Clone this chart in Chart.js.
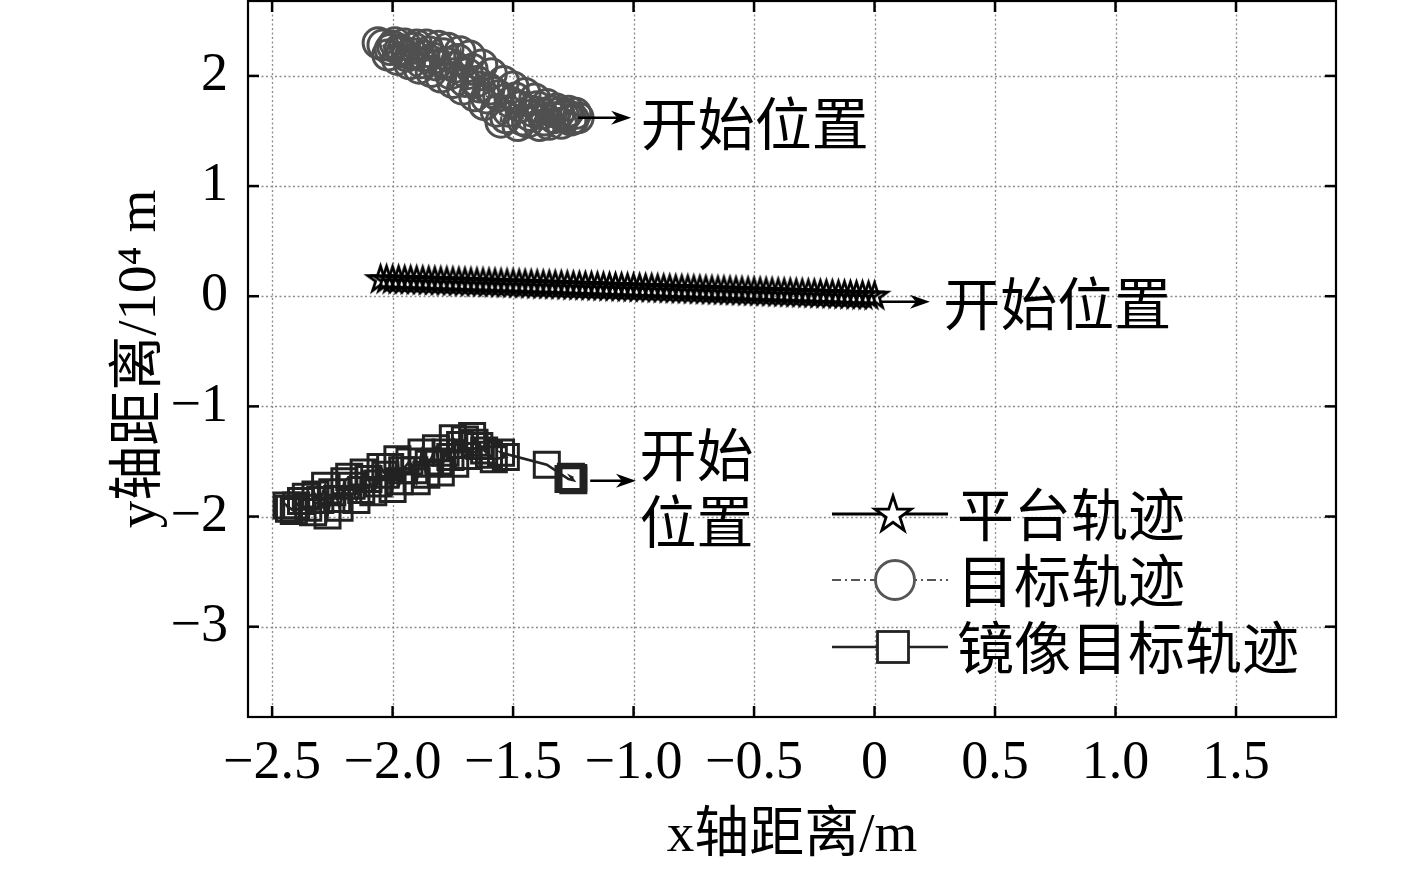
<!DOCTYPE html>
<html><head><meta charset="utf-8">
<script src="https://cdn.jsdelivr.net/npm/chart.js@4.4.1/dist/chart.umd.min.js"></script>
<style>html,body{margin:0;padding:0;background:#fff;}#wrap{width:1417px;height:878px;}</style>
</head><body><div id="wrap"><canvas id="c" width="1417" height="878"></canvas></div>
<script>
// ---------- data ----------
const xTicks = [-2.5, -2, -1.5, -1, -0.5, 0, 0.5, 1, 1.5];
const xTickLabels = ['−2.5', '−2.0', '−1.5', '−1.0', '−0.5', '0', '0.5', '1.0', '1.5'];
const yTicks = [-3, -2, -1, 0, 1, 2];
const yTickLabels = ['−3', '−2', '−1', '0', '1', '2'];
const seriesNames = ['平台轨迹', '目标轨迹', '镜像目标轨迹'];
const startLabel = '开始位置';

const platformX = [0, -0.025, -0.05, -0.075, -0.1, -0.125, -0.15, -0.175, -0.2, -0.225,
  -0.25, -0.275, -0.3, -0.325, -0.35, -0.375, -0.4, -0.425, -0.45, -0.475,
  -0.5, -0.525, -0.55, -0.575, -0.6, -0.625, -0.65, -0.675, -0.7, -0.725,
  -0.75, -0.775, -0.8, -0.825, -0.85, -0.875, -0.9, -0.925, -0.95, -0.975,
  -1.0, -1.025, -1.05, -1.075, -1.1, -1.125, -1.15, -1.175, -1.2, -1.225,
  -1.25, -1.275, -1.3, -1.325, -1.35, -1.375, -1.4, -1.425, -1.45, -1.475,
  -1.5, -1.525, -1.55, -1.575, -1.6, -1.625, -1.65, -1.675, -1.7, -1.725,
  -1.75, -1.775, -1.8, -1.825, -1.85, -1.875, -1.9, -1.925, -1.95, -1.975,
  -2.0, -2.025, -2.05];
const platformY = [0, 0.002, 0.004, 0.005, 0.007, 0.009, 0.011, 0.013, 0.015, 0.016,
  0.018, 0.020, 0.022, 0.024, 0.026, 0.027, 0.029, 0.031, 0.033, 0.035,
  0.037, 0.038, 0.040, 0.042, 0.044, 0.046, 0.047, 0.049, 0.051, 0.053,
  0.055, 0.057, 0.058, 0.060, 0.062, 0.064, 0.066, 0.068, 0.069, 0.071,
  0.073, 0.075, 0.077, 0.078, 0.080, 0.082, 0.084, 0.086, 0.088, 0.089,
  0.091, 0.093, 0.095, 0.097, 0.099, 0.100, 0.102, 0.104, 0.106, 0.108,
  0.110, 0.111, 0.113, 0.115, 0.117, 0.119, 0.120, 0.122, 0.124, 0.126,
  0.128, 0.130, 0.131, 0.133, 0.135, 0.137, 0.139, 0.141, 0.142, 0.144,
  0.146, 0.148, 0.150];

const targetX = [-1.23, -1.24, -1.25, -1.26, -1.27, -1.28, -1.29, -1.30, -1.31, -1.32,
  -1.33, -1.34, -1.35, -1.36, -1.37, -1.38, -1.39, -1.40, -1.41, -1.42,
  -1.43, -1.44, -1.45, -1.46, -1.47, -1.48, -1.49, -1.50, -1.51, -1.52,
  -1.53, -1.54, -1.55, -1.56, -1.57, -1.58, -1.59, -1.60, -1.61, -1.62,
  -1.63, -1.64, -1.65, -1.66, -1.67, -1.68, -1.69, -1.70, -1.71, -1.72,
  -1.73, -1.74, -1.75, -1.76, -1.77, -1.78, -1.79, -1.80, -1.81, -1.82,
  -1.83, -1.84, -1.85, -1.86, -1.87, -1.88, -1.89, -1.90, -1.91, -1.92,
  -1.93, -1.94, -1.95, -1.96, -1.97, -1.98, -1.99, -2.00, -2.01, -2.02,
  -2.04, -2.06];
const targetY = [1.62, 1.66, 1.61, 1.60, 1.68, 1.65, 1.63, 1.57, 1.66, 1.70,
  1.62, 1.68, 1.56, 1.74, 1.60, 1.66, 1.55, 1.72, 1.79, 1.68,
  1.64, 1.58, 1.84, 1.60, 1.72, 1.55, 1.80, 1.90, 1.76, 1.68,
  1.62, 1.95, 1.58, 1.82, 1.68, 1.85, 2.02, 1.88, 1.80, 1.74,
  2.10, 1.90, 1.95, 1.82, 2.06, 2.18, 2.02, 1.95, 1.88, 2.22,
  2.15, 2.08, 1.94, 2.02, 2.25, 2.12, 2.20, 1.99, 2.27, 2.10,
  2.16, 2.04, 2.22, 2.28, 2.18, 2.12, 2.07, 2.28, 2.25, 2.20,
  2.11, 2.18, 2.29, 2.22, 2.24, 2.15, 2.30, 2.27, 2.24, 2.19,
  2.28, 2.30];

const mirrorX = [-1.25, -1.26, -1.25, -1.27, -1.36, -1.55, -1.53, -1.58, -1.60, -1.62,
  -1.64, -1.67, -1.66, -1.69, -1.70, -1.72, -1.75, -1.74, -1.76, -1.78,
  -1.80, -1.81, -1.82, -1.85, -1.86, -1.88, -1.90, -1.91, -1.93, -1.96,
  -1.97, -1.98, -2.00, -2.01, -2.03, -2.05, -2.06, -2.08, -2.10, -2.12,
  -2.13, -2.15, -2.17, -2.18, -2.20, -2.22, -2.23, -2.25, -2.27, -2.28,
  -2.30, -2.32, -2.33, -2.35, -2.36, -2.38, -2.40, -2.41, -2.44, -2.43];
const mirrorY = [-1.65, -1.64, -1.67, -1.66, -1.53, -1.42, -1.46, -1.48, -1.44, -1.40,
  -1.36, -1.27, -1.33, -1.45, -1.30, -1.35, -1.29, -1.52, -1.46, -1.42,
  -1.60, -1.50, -1.38, -1.52, -1.62, -1.42, -1.68, -1.58, -1.50, -1.58,
  -1.68, -1.48, -1.75, -1.55, -1.62, -1.55, -1.70, -1.78, -1.66, -1.60,
  -1.76, -1.85, -1.72, -1.64, -1.68, -1.92, -1.84, -1.78, -1.99, -1.72,
  -1.85, -1.80, -1.96, -1.92, -1.82, -1.86, -1.90, -1.95, -1.90, -1.93];

// start-position annotation anchors (data units)
const arrowFromX = [-1.23, 0.02, -1.18];
const arrowFromY = [1.62, -0.05, -1.675];
const arrowToX = [-1.01, 0.23, -0.99];
const arrowToY = [1.62, -0.05, -1.675];

// ---------- styling ----------
const LATIN = '"Liberation Serif", "Times New Roman", "Noto Sans CJK SC", serif';
const CJK = '"Noto Sans CJK SC", "Liberation Serif", sans-serif';
const TICK_FONT = { family: LATIN, size: 54 };
const TITLE_FONT = { family: LATIN, size: 55 };

function makeStar(R, lw, color) {
  const size = Math.ceil(2 * R + 2 * lw + 4);
  const c = document.createElement('canvas');
  c.width = size; c.height = size;
  const g = c.getContext('2d');
  drawStarPath(g, size / 2, size / 2, R);
  g.lineWidth = lw; g.strokeStyle = color; g.lineJoin = 'miter';
  g.stroke();
  return c;
}
function drawStarPath(g, cx, cy, R) {
  g.beginPath();
  for (let i = 0; i < 10; i++) {
    const r = i % 2 ? R * 0.382 : R;
    const a = -Math.PI / 2 + i * Math.PI / 5;
    const px = cx + r * Math.cos(a), py = cy + r * Math.sin(a);
    if (i === 0) g.moveTo(px, py); else g.lineTo(px, py);
  }
  g.closePath();
}
const starImg = makeStar(13.5, 2.8, '#000');

const toPts = (xs, ys) => xs.map((x, i) => ({ x: x, y: ys[i] }));
const noPad = s => { s.paddingTop = 0; s.paddingBottom = 0; s.paddingLeft = 0; s.paddingRight = 0; };

const overlay = {
  id: 'overlay',
  beforeDatasetsDraw(chart) {
    const { ctx, chartArea: a, scales: { x, y } } = chart;
    ctx.save();
    ctx.strokeStyle = '#8c8c8c'; ctx.lineWidth = 1.3; ctx.setLineDash([2, 2.5]);
    xTicks.forEach(v => {
      const p = Math.round(x.getPixelForValue(v)) + 0.5;
      ctx.beginPath(); ctx.moveTo(p, a.top); ctx.lineTo(p, a.bottom); ctx.stroke();
    });
    yTicks.forEach(v => {
      const p = Math.round(y.getPixelForValue(v)) + 0.5;
      ctx.beginPath(); ctx.moveTo(a.left, p); ctx.lineTo(a.right, p); ctx.stroke();
    });
    ctx.restore();
  },
  afterDatasetsDraw(chart) {
    const { ctx, chartArea: a, scales: { x, y } } = chart;
    ctx.save();
    // inward ticks
    ctx.strokeStyle = '#000'; ctx.lineWidth = 2.5; ctx.setLineDash([]);
    const tl = 11;
    xTicks.forEach(v => {
      const p = x.getPixelForValue(v);
      ctx.beginPath(); ctx.moveTo(p, a.bottom); ctx.lineTo(p, a.bottom - tl); ctx.stroke();
      ctx.beginPath(); ctx.moveTo(p, a.top); ctx.lineTo(p, a.top + tl); ctx.stroke();
    });
    yTicks.forEach(v => {
      const p = y.getPixelForValue(v);
      ctx.beginPath(); ctx.moveTo(a.left, p); ctx.lineTo(a.left + tl, p); ctx.stroke();
      ctx.beginPath(); ctx.moveTo(a.right, p); ctx.lineTo(a.right - tl, p); ctx.stroke();
    });
    // frame
    ctx.lineWidth = 2.2;
    ctx.strokeRect(a.left, a.top, a.right - a.left, a.bottom - a.top);

    // arrows
    for (let i = 0; i < arrowFromX.length; i++) {
      const x0 = x.getPixelForValue(arrowFromX[i]), y0 = y.getPixelForValue(arrowFromY[i]);
      const x1 = x.getPixelForValue(arrowToX[i]), y1 = y.getPixelForValue(arrowToY[i]);
      const ang = Math.atan2(y1 - y0, x1 - x0);
      const hl = 20, hw = 7;
      ctx.strokeStyle = '#000'; ctx.fillStyle = '#000'; ctx.lineWidth = 2.6;
      ctx.beginPath(); ctx.moveTo(x0, y0);
      ctx.lineTo(x1 - hl * 0.6 * Math.cos(ang), y1 - hl * 0.6 * Math.sin(ang)); ctx.stroke();
      ctx.beginPath();
      ctx.moveTo(x1, y1);
      ctx.lineTo(x1 - hl * Math.cos(ang) + hw * Math.sin(ang), y1 - hl * Math.sin(ang) - hw * Math.cos(ang));
      ctx.lineTo(x1 - hl * 0.7 * Math.cos(ang), y1 - hl * 0.7 * Math.sin(ang));
      ctx.lineTo(x1 - hl * Math.cos(ang) - hw * Math.sin(ang), y1 - hl * Math.sin(ang) + hw * Math.cos(ang));
      ctx.closePath(); ctx.fill();
    }
    // start labels
    ctx.fillStyle = '#000';
    ctx.font = '57px ' + CJK;
    ctx.textAlign = 'left'; ctx.textBaseline = 'middle';
    ctx.fillText(startLabel, x.getPixelForValue(-0.97), y.getPixelForValue(1.565));
    ctx.fillText(startLabel, x.getPixelForValue(0.285), y.getPixelForValue(-0.065));
    ctx.fillText(startLabel.slice(0, 2), x.getPixelForValue(-0.975), y.getPixelForValue(-1.44));
    ctx.fillText(startLabel.slice(2), x.getPixelForValue(-0.975), y.getPixelForValue(-2.04));

    // legend
    const lx0 = 832, lx1 = 948, mx = 893, tx = 957;
    const rows = [514, 580, 647];
    // row 1: platform
    ctx.setLineDash([]); ctx.strokeStyle = '#000'; ctx.lineWidth = 2.8;
    ctx.beginPath(); ctx.moveTo(lx0, rows[0]); ctx.lineTo(lx1, rows[0]); ctx.stroke();
    ctx.fillStyle = '#fff';
    drawStarPath(ctx, mx, rows[0] + 1, 19); ctx.fill();
    ctx.lineWidth = 2.8; ctx.stroke();
    // row 2: target
    ctx.strokeStyle = '#555'; ctx.lineWidth = 2.2; ctx.setLineDash([9, 4, 2, 4]);
    ctx.beginPath(); ctx.moveTo(lx0, rows[1]); ctx.lineTo(lx1, rows[1]); ctx.stroke();
    ctx.setLineDash([]);
    ctx.beginPath(); ctx.arc(mx + 2, rows[1], 19.5, 0, Math.PI * 2);
    ctx.fillStyle = '#fff'; ctx.fill(); ctx.lineWidth = 2.8; ctx.stroke();
    // row 3: mirror
    ctx.strokeStyle = '#222'; ctx.lineWidth = 2.6;
    ctx.beginPath(); ctx.moveTo(lx0, rows[2]); ctx.lineTo(lx1, rows[2]); ctx.stroke();
    ctx.fillStyle = '#fff';
    ctx.fillRect(mx - 15.5, rows[2] - 15.5, 31, 31);
    ctx.lineWidth = 2.8; ctx.strokeRect(mx - 15.5, rows[2] - 15.5, 31, 31);
    // legend texts
    ctx.fillStyle = '#000'; ctx.font = '57px ' + CJK;
    ctx.textAlign = 'left'; ctx.textBaseline = 'middle';
    rows.forEach((ry, i) => ctx.fillText(seriesNames[i], tx, ry));
    ctx.restore();
  }
};

new Chart(document.getElementById('c'), {
  type: 'scatter',
  data: {
    datasets: [
      {
        label: seriesNames[0], data: toPts(platformX, platformY), showLine: true,
        borderColor: '#000', borderWidth: 2.6, pointStyle: starImg, pointRadius: 13,
        backgroundColor: 'transparent', pointBackgroundColor: 'transparent'
      },
      {
        label: seriesNames[1], data: toPts(targetX, targetY), showLine: true,
        borderColor: '#4f4f4f', borderWidth: 2.2, borderDash: [9, 4, 2, 4],
        pointStyle: 'circle', pointRadius: 15, pointBorderWidth: 3,
        pointBorderColor: '#505050', pointBackgroundColor: 'transparent', backgroundColor: 'transparent'
      },
      {
        label: seriesNames[2], data: toPts(mirrorX, mirrorY), showLine: true,
        borderColor: '#222', borderWidth: 2.6,
        pointStyle: 'rect', pointRadius: 17.7, pointBorderWidth: 3,
        pointBorderColor: '#222', pointBackgroundColor: 'transparent', backgroundColor: 'transparent'
      }
    ]
  },
  options: {
    responsive: false, animation: false, devicePixelRatio: 1,
    layout: { autoPadding: false, padding: { top: 1, right: 81, left: 0, bottom: 0 } },
    plugins: { legend: { display: false }, tooltip: { enabled: false } },
    scales: {
      x: {
        type: 'linear', min: -2.6, max: 1.915,
        afterBuildTicks: s => { s.ticks = xTicks.map(v => ({ value: v })); },
        afterFit: s => { s.height = 161; noPad(s); },
        ticks: {
          autoSkip: false, maxRotation: 0, minRotation: 0, color: '#000', font: TICK_FONT, padding: 14,
          callback: (v, i) => xTickLabels[i]
        },
        grid: { display: false, drawTicks: false },
        border: { display: false },
        title: { display: true, text: 'x轴距离/m', color: '#000', font: TITLE_FONT, padding: { top: 0, bottom: 8 } }
      },
      y: {
        type: 'linear', min: -3.82, max: 2.68,
        afterBuildTicks: s => { s.ticks = yTicks.map(v => ({ value: v })); },
        afterFit: s => { s.width = 248; noPad(s); },
        ticks: {
          autoSkip: false, color: '#000', font: TICK_FONT, padding: 20,
          callback: (v, i) => yTickLabels[i]
        },
        grid: { display: false, drawTicks: false },
        border: { display: false },
        title: { display: true, text: 'y轴距离/10⁴ m', color: '#000', font: TITLE_FONT, padding: { top: 108, bottom: 0 } }
      }
    }
  },
  plugins: [overlay]
});
</script>
</body></html>
